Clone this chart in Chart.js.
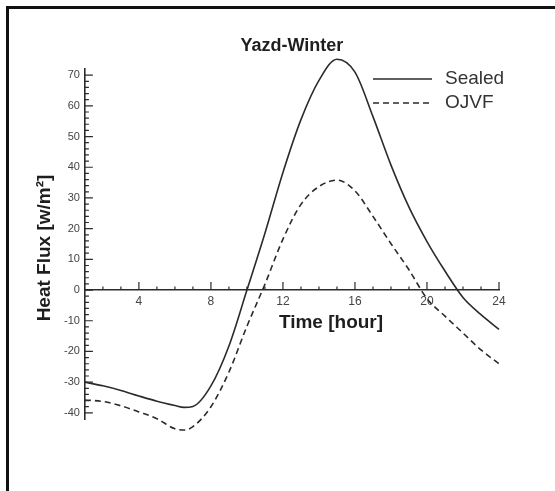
<!DOCTYPE html>
<html>
<head>
<meta charset="utf-8">
<script src="https://cdn.jsdelivr.net/npm/chart.js@4.4.1/dist/chart.umd.min.js"></script>
<style>
    html, body { margin: 0; padding: 0; background: #fff; overflow: hidden; }
    #wrap { position: relative; width: 555px; height: 491px; }
    #frame {
        position: absolute; left: 6px; top: 6px; width: 600px; height: 600px;
        border-left: 3px solid #111; border-top: 3px solid #111;
        pointer-events: none;
    }
    canvas { position: absolute; left: 0; top: 0; }
</style>
</head>
<body>
<div id="wrap">
    <canvas id="fluxChart" width="555" height="491"></canvas>
    <div id="frame"></div>
</div>
<script>
const hours = [1, 2, 3, 4, 5, 6, 6.5, 7, 8, 9, 10, 11, 12, 13, 14, 15, 16, 17, 18, 19, 20, 21, 22, 23, 24];
const sealed = [-30, -31.2, -32.7, -34.5, -36.2, -37.6, -38.2, -37.9, -31.2, -18.2, 0, 18.5, 38.3, 55.5, 68.3, 75.2, 71, 56.5, 40.7, 27, 15.8, 6.2, -2.4, -8, -12.8];
const ojvf = [-35.8, -36.3, -37.7, -39.7, -41.9, -45.2, -45.6, -44.5, -38, -26.7, -11.8, 1.9, 16.6, 27.9, 33.7, 35.8, 32.3, 24, 15.1, 6.6, -2.8, -8.5, -14, -19.5, -24];
const seriesNames = ['Sealed', 'OJVF'];
const xTicks = [4, 8, 12, 16, 20, 24];
const yTicks = [-40, -30, -20, -10, 0, 10, 20, 30, 40, 50, 60, 70];

const ink = '#2b2b2b';
const fontFamily = '"Liberation Sans", Arial, sans-serif';

// inward ticks, axis titles and the legend box
const axisDecor = {
    id: 'axisDecor',
    afterDraw(chart) {
        const { ctx, scales: { x, y } } = chart;
        const x0 = x.getPixelForValue(1);
        const y0 = y.getPixelForValue(0);
        ctx.save();
        ctx.strokeStyle = ink;
        ctx.lineWidth = 1.2;
        ctx.beginPath();
        for (let v = -40; v <= 70; v += 2) {
            const py = y.getPixelForValue(v);
            const len = yTicks.includes(v) ? 8 : 4;
            ctx.moveTo(x0, py);
            ctx.lineTo(x0 + len, py);
        }
        for (let h = 2; h <= 24; h++) {
            const px = x.getPixelForValue(h);
            const len = xTicks.includes(h) ? 8 : 3.5;
            ctx.moveTo(px, y0);
            ctx.lineTo(px, y0 - len);
        }
        ctx.stroke();

        ctx.fillStyle = '#1e1e1e';
        ctx.font = 'bold 19px ' + fontFamily;
        ctx.textAlign = 'center';
        ctx.textBaseline = 'middle';
        ctx.fillText('Time [hour]', 331, 323);
        ctx.save();
        ctx.translate(45, 248);
        ctx.rotate(-Math.PI / 2);
        ctx.fillText('Heat Flux [w/m²]', 0, 0);
        ctx.restore();

        ctx.font = '19px ' + fontFamily;
        ctx.textAlign = 'left';
        chart.data.datasets.forEach((ds, i) => {
            const ly = 79 + i * 24;
            ctx.strokeStyle = ink;
            ctx.lineWidth = 1.6;
            ctx.setLineDash(ds.borderDash || []);
            ctx.beginPath();
            ctx.moveTo(373, ly);
            ctx.lineTo(432, ly);
            ctx.stroke();
            ctx.fillStyle = '#333';
            ctx.fillText(ds.label, 445, ly);
        });
        ctx.restore();
    }
};

document.addEventListener('DOMContentLoaded', () => {
    const el = document.getElementById('fluxChart');
    new Chart(el, {
        type: 'line',
        data: {
            datasets: [
                {
                    label: seriesNames[0],
                    data: hours.map((h, i) => ({ x: h, y: sealed[i] })),
                    borderColor: ink,
                    borderWidth: 1.6,
                    pointRadius: 0,
                    cubicInterpolationMode: 'monotone',
                    clip: false
                },
                {
                    label: seriesNames[1],
                    data: hours.map((h, i) => ({ x: h, y: ojvf[i] })),
                    borderColor: ink,
                    borderWidth: 1.6,
                    borderDash: [6, 4],
                    pointRadius: 0,
                    cubicInterpolationMode: 'monotone',
                    clip: false
                }
            ]
        },
        options: {
            responsive: false,
            animation: false,
            devicePixelRatio: 1,
            layout: { padding: { left: 59, right: 56, top: 0, bottom: 72 } },
            scales: {
                x: {
                    type: 'linear',
                    min: 1,
                    max: 24,
                    position: { y: 0 },
                    grid: { display: false, drawTicks: false },
                    border: { display: true, color: ink, width: 1.6 },
                    ticks: {
                        stepSize: 4,
                        includeBounds: false,
                        padding: 4,
                        color: '#444',
                        font: { family: fontFamily, size: 12 }
                    }
                },
                y: {
                    type: 'linear',
                    min: -42,
                    max: 72,
                    position: 'left',
                    grid: { display: false, drawTicks: false },
                    border: { display: true, color: ink, width: 1.6 },
                    ticks: {
                        stepSize: 10,
                        includeBounds: false,
                        padding: 5,
                        color: '#444',
                        font: { family: fontFamily, size: 11 }
                    }
                }
            },
            plugins: {
                legend: { display: false },
                tooltip: { enabled: false },
                title: {
                    display: true,
                    fullSize: false,
                    text: 'Yazd-Winter',
                    color: '#1e1e1e',
                    font: { family: fontFamily, size: 18, weight: 'bold' },
                    padding: { top: 35, bottom: 12.4 }
                }
            }
        },
        plugins: [axisDecor]
    });
});
</script>
</body>
</html>
